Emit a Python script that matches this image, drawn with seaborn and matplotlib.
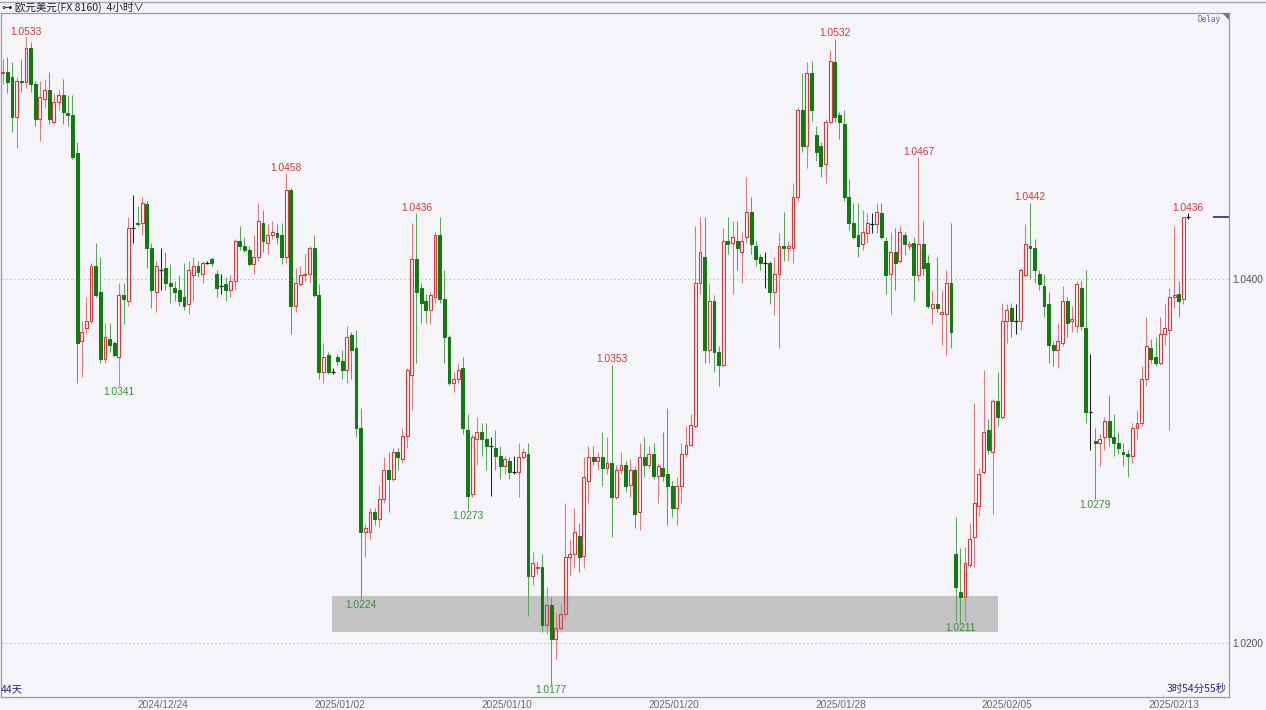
import numpy as np
import pandas as pd
import seaborn as sns
import matplotlib
matplotlib.use("Agg")
import matplotlib.pyplot as plt
from matplotlib.patches import Rectangle, Polygon
from matplotlib.lines import Line2D

# ---------------- data (EUR/USD 4h candles) ----------------
opens = [
    1.0513, 1.0514, 1.0511, 1.0489, 1.0509, 1.0508, 1.0527, 1.0507, 1.0488, 1.0499,
    1.0504, 1.0486, 1.0497, 1.0501, 1.0491, 1.0490, 1.0469, 1.0366, 1.0373, 1.0377,
    1.0407, 1.0393, 1.0356, 1.0367, 1.0365, 1.0357, 1.0391, 1.0388, 1.0428, 1.0431,
    1.0431, 1.0441, 1.0417, 1.0393, 1.0405, 1.0406, 1.0398, 1.0395, 1.0394, 1.0390,
    1.0386, 1.0402, 1.0407, 1.0403, 1.0409, 1.0411, 1.0403, 1.0396, 1.0397, 1.0394,
    1.0399, 1.0421, 1.0418, 1.0416, 1.0408, 1.0412, 1.0431, 1.0420, 1.0424, 1.0425,
    1.0424, 1.0412, 1.0449, 1.0385, 1.0397, 1.0402, 1.0403, 1.0417, 1.0391, 1.0349,
    1.0358, 1.0349, 1.0357, 1.0355, 1.0350, 1.0369, 1.0362, 1.0318, 1.0261, 1.0261,
    1.0272, 1.0268, 1.0279, 1.0295, 1.0290, 1.0305, 1.0301, 1.0314, 1.0347, 1.0411,
    1.0395, 1.0388, 1.0383, 1.0390, 1.0424, 1.0389, 1.0368, 1.0343, 1.0345, 1.0351,
    1.0317, 1.0282, 1.0312, 1.0316, 1.0312, 1.0308, 1.0307, 1.0303, 1.0297, 1.0300,
    1.0294, 1.0294, 1.0302, 1.0304, 1.0237, 1.0241, 1.0242, 1.0210, 1.0221, 1.0202,
    1.0208, 1.0216, 1.0247, 1.0249, 1.0259, 1.0248, 1.0289, 1.0302, 1.0300, 1.0302,
    1.0296, 1.0299, 1.0280, 1.0295, 1.0298, 1.0287, 1.0295, 1.0272, 1.0302, 1.0298,
    1.0304, 1.0292, 1.0296, 1.0293, 1.0286, 1.0274, 1.0286, 1.0304, 1.0309, 1.0319,
    1.0398, 1.0412, 1.0361, 1.0388, 1.0360, 1.0353, 1.0421, 1.0420, 1.0421, 1.0415,
    1.0423, 1.0437, 1.0418, 1.0412, 1.0409, 1.0409, 1.0393, 1.0403, 1.0418, 1.0417,
    1.0417, 1.0445, 1.0493, 1.0473, 1.0513, 1.0479, 1.0473, 1.0463, 1.0486, 1.0519,
    1.0490, 1.0485, 1.0445, 1.0431, 1.0424, 1.0419, 1.0425, 1.0430, 1.0430, 1.0436,
    1.0421, 1.0403, 1.0415, 1.0410, 1.0424, 1.0418, 1.0420, 1.0402, 1.0419, 1.0409,
    1.0384, 1.0386, 1.0381, 1.0381, 1.0398, 1.0249, 1.0228, 1.0225, 1.0243, 1.0258,
    1.0275, 1.0294, 1.0317, 1.0305, 1.0333, 1.0324, 1.0377, 1.0384, 1.0377, 1.0377,
    1.0402, 1.0418, 1.0417, 1.0403, 1.0396, 1.0386, 1.0364, 1.0361, 1.0365, 1.0388,
    1.0377, 1.0374, 1.0395, 1.0373, 1.0327, 1.0311, 1.0310, 1.0313, 1.0322, 1.0313,
    1.0310, 1.0305, 1.0304, 1.0303, 1.0318, 1.0321, 1.0345, 1.0362, 1.0357, 1.0354,
    1.0370, 1.0372, 1.0390, 1.0392, 1.0389, 1.0434,
]
highs = [
    1.0521, 1.0522, 1.0519, 1.0511, 1.0521, 1.0533, 1.0530, 1.0509, 1.0509, 1.0510,
    1.0514, 1.0502, 1.0504, 1.0510, 1.0501, 1.0501, 1.0475, 1.0377, 1.0390, 1.0409,
    1.0420, 1.0412, 1.0376, 1.0376, 1.0366, 1.0398, 1.0398, 1.0434, 1.0446, 1.0440,
    1.0445, 1.0443, 1.0420, 1.0410, 1.0417, 1.0415, 1.0408, 1.0399, 1.0402, 1.0409,
    1.0410, 1.0412, 1.0410, 1.0410, 1.0410, 1.0412, 1.0405, 1.0403, 1.0401, 1.0402,
    1.0422, 1.0429, 1.0423, 1.0418, 1.0424, 1.0442, 1.0438, 1.0430, 1.0432, 1.0430,
    1.0431, 1.0458, 1.0450, 1.0406, 1.0407, 1.0414, 1.0418, 1.0424, 1.0397, 1.0365,
    1.0360, 1.0351, 1.0359, 1.0361, 1.0374, 1.0371, 1.0372, 1.0329, 1.0266, 1.0274,
    1.0274, 1.0287, 1.0302, 1.0305, 1.0307, 1.0307, 1.0318, 1.0351, 1.0431, 1.0436,
    1.0398, 1.0392, 1.0393, 1.0426, 1.0434, 1.0405, 1.0369, 1.0349, 1.0354, 1.0357,
    1.0326, 1.0315, 1.0324, 1.0321, 1.0321, 1.0313, 1.0317, 1.0308, 1.0303, 1.0302,
    1.0303, 1.0310, 1.0307, 1.0310, 1.0250, 1.0245, 1.0249, 1.0231, 1.0225, 1.0217,
    1.0222, 1.0277, 1.0257, 1.0274, 1.0266, 1.0302, 1.0308, 1.0308, 1.0305, 1.0316,
    1.0313, 1.0353, 1.0298, 1.0305, 1.0300, 1.0301, 1.0297, 1.0310, 1.0313, 1.0308,
    1.0310, 1.0299, 1.0316, 1.0329, 1.0289, 1.0291, 1.0310, 1.0319, 1.0326, 1.0429,
    1.0434, 1.0434, 1.0398, 1.0391, 1.0363, 1.0428, 1.0434, 1.0432, 1.0432, 1.0426,
    1.0456, 1.0445, 1.0421, 1.0414, 1.0415, 1.0410, 1.0412, 1.0425, 1.0437, 1.0421,
    1.0453, 1.0494, 1.0513, 1.0519, 1.0520, 1.0484, 1.0475, 1.0488, 1.0526, 1.0532,
    1.0492, 1.0493, 1.0455, 1.0442, 1.0442, 1.0438, 1.0436, 1.0436, 1.0442, 1.0442,
    1.0423, 1.0426, 1.0428, 1.0429, 1.0426, 1.0421, 1.0423, 1.0467, 1.0432, 1.0413,
    1.0394, 1.0412, 1.0394, 1.0405, 1.0431, 1.0269, 1.0252, 1.0253, 1.0266, 1.0332,
    1.0296, 1.0350, 1.0323, 1.0334, 1.0349, 1.0387, 1.0386, 1.0387, 1.0386, 1.0406,
    1.0430, 1.0442, 1.0422, 1.0405, 1.0403, 1.0393, 1.0366, 1.0376, 1.0396, 1.0390,
    1.0385, 1.0399, 1.0399, 1.0405, 1.0359, 1.0318, 1.0315, 1.0324, 1.0336, 1.0326,
    1.0316, 1.0310, 1.0306, 1.0321, 1.0328, 1.0352, 1.0379, 1.0367, 1.0368, 1.0379,
    1.0386, 1.0395, 1.0429, 1.0399, 1.0434, 1.0436,
]
lows = [
    1.0507, 1.0502, 1.0481, 1.0472, 1.0503, 1.0505, 1.0503, 1.0484, 1.0476, 1.0494,
    1.0485, 1.0485, 1.0493, 1.0485, 1.0484, 1.0466, 1.0343, 1.0346, 1.0370, 1.0376,
    1.0390, 1.0354, 1.0354, 1.0360, 1.0357, 1.0341, 1.0375, 1.0385, 1.0420, 1.0429,
    1.0424, 1.0406, 1.0384, 1.0382, 1.0394, 1.0394, 1.0387, 1.0388, 1.0385, 1.0383,
    1.0381, 1.0388, 1.0401, 1.0398, 1.0408, 1.0407, 1.0390, 1.0392, 1.0388, 1.0390,
    1.0394, 1.0416, 1.0415, 1.0407, 1.0403, 1.0410, 1.0415, 1.0414, 1.0422, 1.0419,
    1.0408, 1.0409, 1.0370, 1.0382, 1.0396, 1.0399, 1.0398, 1.0390, 1.0345, 1.0343,
    1.0348, 1.0348, 1.0353, 1.0345, 1.0343, 1.0345, 1.0313, 1.0224, 1.0247, 1.0257,
    1.0265, 1.0264, 1.0277, 1.0272, 1.0289, 1.0295, 1.0299, 1.0307, 1.0328, 1.0354,
    1.0376, 1.0376, 1.0375, 1.0387, 1.0387, 1.0354, 1.0342, 1.0338, 1.0343, 1.0315,
    1.0273, 1.0280, 1.0298, 1.0303, 1.0295, 1.0281, 1.0295, 1.0290, 1.0293, 1.0290,
    1.0293, 1.0280, 1.0301, 1.0215, 1.0232, 1.0238, 1.0206, 1.0205, 1.0177, 1.0191,
    1.0207, 1.0214, 1.0237, 1.0241, 1.0239, 1.0241, 1.0277, 1.0298, 1.0295, 1.0286,
    1.0293, 1.0258, 1.0279, 1.0293, 1.0283, 1.0280, 1.0263, 1.0262, 1.0291, 1.0296,
    1.0290, 1.0277, 1.0289, 1.0265, 1.0269, 1.0265, 1.0277, 1.0302, 1.0308, 1.0318,
    1.0392, 1.0354, 1.0354, 1.0349, 1.0341, 1.0352, 1.0414, 1.0392, 1.0405, 1.0398,
    1.0420, 1.0414, 1.0407, 1.0405, 1.0395, 1.0386, 1.0380, 1.0362, 1.0410, 1.0410,
    1.0409, 1.0443, 1.0470, 1.0461, 1.0487, 1.0465, 1.0456, 1.0453, 1.0485, 1.0486,
    1.0477, 1.0443, 1.0427, 1.0422, 1.0412, 1.0416, 1.0420, 1.0425, 1.0425, 1.0422,
    1.0392, 1.0381, 1.0394, 1.0409, 1.0413, 1.0416, 1.0388, 1.0399, 1.0402, 1.0384,
    1.0375, 1.0382, 1.0364, 1.0358, 1.0362, 1.0212, 1.0211, 1.0212, 1.0242, 1.0242,
    1.0270, 1.0293, 1.0304, 1.0271, 1.0319, 1.0323, 1.0365, 1.0368, 1.0370, 1.0372,
    1.0401, 1.0400, 1.0398, 1.0394, 1.0379, 1.0354, 1.0352, 1.0351, 1.0363, 1.0368,
    1.0371, 1.0371, 1.0372, 1.0321, 1.0306, 1.0279, 1.0297, 1.0306, 1.0308, 1.0303,
    1.0304, 1.0297, 1.0291, 1.0299, 1.0312, 1.0319, 1.0341, 1.0354, 1.0352, 1.0353,
    1.0364, 1.0317, 1.0384, 1.0379, 1.0386, 1.0433,
]
closes = [
    1.0514, 1.0508, 1.0489, 1.0509, 1.0508, 1.0527, 1.0507, 1.0488, 1.0500, 1.0504,
    1.0488, 1.0497, 1.0501, 1.0492, 1.0490, 1.0467, 1.0365, 1.0371, 1.0377, 1.0407,
    1.0391, 1.0356, 1.0368, 1.0364, 1.0358, 1.0391, 1.0389, 1.0428, 1.0428, 1.0430,
    1.0442, 1.0417, 1.0394, 1.0407, 1.0405, 1.0398, 1.0396, 1.0393, 1.0388, 1.0385,
    1.0405, 1.0407, 1.0404, 1.0409, 1.0409, 1.0409, 1.0395, 1.0396, 1.0394, 1.0399,
    1.0421, 1.0418, 1.0416, 1.0408, 1.0412, 1.0432, 1.0421, 1.0424, 1.0426, 1.0423,
    1.0412, 1.0449, 1.0385, 1.0398, 1.0402, 1.0403, 1.0417, 1.0391, 1.0349, 1.0357,
    1.0349, 1.0349, 1.0355, 1.0350, 1.0368, 1.0361, 1.0318, 1.0261, 1.0263, 1.0272,
    1.0268, 1.0279, 1.0295, 1.0290, 1.0305, 1.0302, 1.0314, 1.0350, 1.0411, 1.0393,
    1.0387, 1.0383, 1.0391, 1.0424, 1.0389, 1.0368, 1.0343, 1.0345, 1.0350, 1.0318,
    1.0281, 1.0313, 1.0316, 1.0312, 1.0308, 1.0308, 1.0303, 1.0297, 1.0301, 1.0294,
    1.0294, 1.0302, 1.0305, 1.0237, 1.0244, 1.0242, 1.0210, 1.0221, 1.0202, 1.0208,
    1.0216, 1.0247, 1.0249, 1.0261, 1.0247, 1.0291, 1.0302, 1.0300, 1.0302, 1.0296,
    1.0299, 1.0280, 1.0295, 1.0298, 1.0286, 1.0295, 1.0271, 1.0302, 1.0298, 1.0304,
    1.0292, 1.0297, 1.0292, 1.0286, 1.0274, 1.0286, 1.0304, 1.0309, 1.0320, 1.0398,
    1.0415, 1.0361, 1.0388, 1.0360, 1.0353, 1.0421, 1.0419, 1.0423, 1.0417, 1.0421,
    1.0437, 1.0419, 1.0411, 1.0409, 1.0409, 1.0393, 1.0403, 1.0418, 1.0417, 1.0418,
    1.0445, 1.0493, 1.0473, 1.0513, 1.0493, 1.0470, 1.0462, 1.0486, 1.0520, 1.0489,
    1.0486, 1.0445, 1.0431, 1.0423, 1.0418, 1.0426, 1.0431, 1.0430, 1.0437, 1.0423,
    1.0402, 1.0415, 1.0409, 1.0426, 1.0419, 1.0419, 1.0402, 1.0419, 1.0406, 1.0385,
    1.0386, 1.0384, 1.0382, 1.0398, 1.0371, 1.0231, 1.0225, 1.0244, 1.0257, 1.0277,
    1.0293, 1.0316, 1.0306, 1.0333, 1.0324, 1.0377, 1.0383, 1.0377, 1.0377, 1.0405,
    1.0419, 1.0417, 1.0405, 1.0397, 1.0385, 1.0364, 1.0361, 1.0366, 1.0388, 1.0376,
    1.0378, 1.0397, 1.0374, 1.0327, 1.0327, 1.0310, 1.0312, 1.0322, 1.0313, 1.0310,
    1.0307, 1.0304, 1.0303, 1.0318, 1.0321, 1.0345, 1.0363, 1.0356, 1.0354, 1.0370,
    1.0373, 1.0390, 1.0391, 1.0388, 1.0434, 1.0434,
]

# marked extremes (candle indices)
high_marks = [5, 61, 89, 131, 179, 197, 221, 255]
low_marks = [25, 77, 100, 118, 206, 235]

# date labels along the axis (candle positions)
date_pos = [34.5, 72.5, 108.4, 144.3, 180.2, 216.0, 251.9]
date_labels = ["2024/12/24", "2025/01/02", "2025/01/10", "2025/01/20",
               "2025/01/28", "2025/02/05", "2025/02/13"]

# support zone (candle span and price band)
zone_span = [70.9, 214.1]
zone_band = [1.0206, 1.02258]

price_ticks = [1.0200, 1.0400]

# ---------------- styling ----------------
BG = "#f4f4f9"
RED = "#d23c3c"
RED_WICK = "#e07a7a"
GREEN = "#137a13"
GREEN_WICK = "#5aa55a"
RED_TXT = "#d03a3a"
GREEN_TXT = "#3d8f3d"
NAVY = "#2b2b7d"

sns.set_theme(style="white")
plt.rcParams["font.family"] = ["Liberation Sans", "Noto Sans CJK SC", "DejaVu Sans"]

W, H = 1266, 710
fig = plt.figure(figsize=(W / 100, H / 100), dpi=100, facecolor=BG)
ax = fig.add_axes([1 / W, 13 / H, 1228 / W, 684 / H])
ax.set_facecolor(BG)

df = pd.DataFrame({"open": opens, "high": highs, "low": lows, "close": closes})
df["i"] = np.arange(len(df))
df["top"] = df[["open", "close"]].max(axis=1)
df["bot"] = df[["open", "close"]].min(axis=1)
up = df[df.close > df.open]
dn = df[df.close < df.open]
dj = df[df.close == df.open]

# zone
ax.add_patch(Rectangle((zone_span[0], zone_band[0]), zone_span[1] - zone_span[0],
                       zone_band[1] - zone_band[0], facecolor="#c3c3c3",
                       edgecolor="none", zorder=1))

# wicks
lw = 0.75
ax.vlines(up.i, up.top, up.high, color=RED_WICK, lw=lw, zorder=2)
ax.vlines(up.i, up.low, up.bot, color=RED_WICK, lw=lw, zorder=2)
ax.vlines(dn.i, dn.low, dn.high, color=GREEN_WICK, lw=lw, zorder=2)
ax.vlines(dj.i, dj.low, dj.high, color="#222222", lw=lw, zorder=2)

# bodies
bw = 0.62
ax.bar(up.i, up.close - up.open, bottom=up.open, width=bw, facecolor="none",
       edgecolor=RED, linewidth=0.8, zorder=3)
ax.bar(dn.i, dn.open - dn.close, bottom=dn.close, width=bw, facecolor=GREEN,
       edgecolor=GREEN, linewidth=0.75, zorder=3)
ax.hlines(dj.close, dj.i - 0.4, dj.i + 0.4, color="#111111", lw=0.9, zorder=3)

# extreme labels
for k in high_marks:
    ax.annotate(f"{highs[k]:.4f}", (k, highs[k]), xytext=(0, 0.3),
                textcoords="offset points", ha="center", va="bottom",
                color=RED_TXT, fontsize=7.4, zorder=5)
for k in low_marks:
    ax.annotate(f"{lows[k]:.4f}", (k, lows[k]), xytext=(0, -0.3),
                textcoords="offset points", ha="center", va="top",
                color=GREEN_TXT, fontsize=7.4, zorder=5)

# current price marker
ax.hlines(closes[-1], 260.4, 263.8, color="#2c2c5c", lw=1.2, zorder=4)

# axes limits / ticks
ax.set_xlim(-0.37, 263.8)
ax.set_ylim(1.017033, 1.054615)
ax.yaxis.tick_right()
ax.set_yticks(price_ticks)
ax.set_yticklabels([f"{v:.4f}" for v in price_ticks])
ax.tick_params(axis="y", length=0, pad=2, labelsize=7.3, labelcolor="#555555")
ax.set_xticks(date_pos)
ax.set_xticklabels(date_labels)
ax.tick_params(axis="x", length=0, pad=2.5, labelsize=7.3, labelcolor="#6a6a6a")
ax.grid(True, axis="y", color="#c4c4c4", linestyle=(0, (1.5, 2.2)), lw=0.8)
ax.grid(False, axis="x")
ax.set_axisbelow(True)
for s in ax.spines.values():
    s.set_visible(True)
    s.set_color("#9c9c9c")
    s.set_linewidth(0.9)

# header & decorations
fig.add_artist(Line2D([0, 1], [1 - 1.5 / H, 1 - 1.5 / H], transform=fig.transFigure,
                      color="#a8a8a8", lw=1.0))
fig.text(2 / W, 1 - 7 / H, "⊶ 欧元美元(FX 8160)  4小时∨", ha="left", va="center",
         fontsize=7.6, color="#222222",
         family=["Noto Sans CJK SC", "DejaVu Sans"])
fig.text(1221 / W, 1 - 20 / H, "Delay", ha="right", va="center", fontsize=5.6,
         color="#5a6e96", family=["DejaVu Sans Mono"])
fig.add_artist(Polygon([[1222 / W, 1 - 13 / H], [1229 / W, 1 - 13 / H],
                        [1229 / W, 1 - 20 / H]], closed=True,
                       transform=fig.transFigure, facecolor="#777777",
                       edgecolor="none"))
fig.text(1 / W, 1 - 689 / H, "44天", ha="left", va="center", fontsize=7.5,
         color=NAVY, family=["Noto Sans CJK SC", "DejaVu Sans"])
fig.text(1227 / W, 1 - 689 / H, "3时54分55秒", ha="right", va="center", fontsize=7.5,
         color=NAVY, family=["Noto Sans CJK SC", "DejaVu Sans"])

fig.savefig("out.png", dpi=100, facecolor=BG)
